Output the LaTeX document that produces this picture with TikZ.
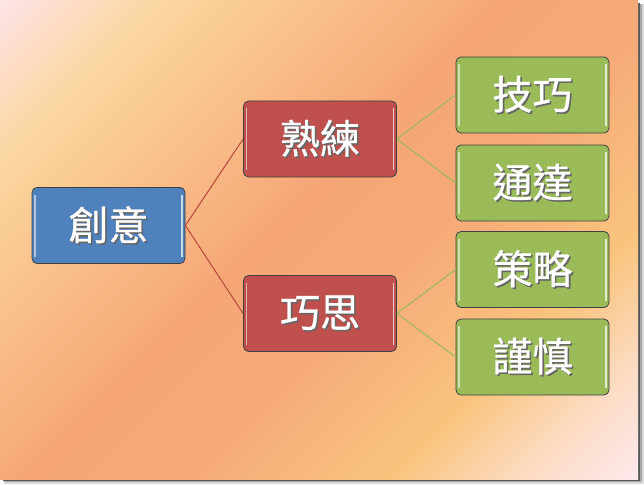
\documentclass[tikz,border=0pt]{standalone}
\usepackage{fontspec}
\newfontfamily\cjk[FakeBold=0.7]{Noto Sans CJK TC}
\definecolor{bgA}{HTML}{FDE3E6}
\definecolor{bgB}{HTML}{FBD69E}
\definecolor{bgC}{HTML}{F9BE8A}
\definecolor{bgD}{HTML}{F6A676}
\definecolor{bgE}{HTML}{F6AA78}
\definecolor{bgF}{HTML}{F9C47E}
\definecolor{bgG}{HTML}{FCDCC4}
\definecolor{bgH}{HTML}{FDE8EC}
\definecolor{cblue}{HTML}{4F81BD}
\definecolor{cred}{HTML}{C0504D}
\definecolor{cgreen}{HTML}{9BBB59}
\definecolor{lred}{HTML}{B44A3C}
\definecolor{lgreen}{HTML}{9AB85A}
\pgfdeclarehorizontalshading{bgshade}{100bp}{color(0bp)=(bgA); color(14.64bp)=(bgA); color(25.25bp)=(bgB); color(35.85bp)=(bgC); color(46.46bp)=(bgD); color(57.07bp)=(bgE); color(69.8bp)=(bgF); color(78.3bp)=(bgG); color(85.36bp)=(bgH); color(100bp)=(bgH)}
\newcommand\shtext[1]{\rlap{\hspace{1.6pt}\raisebox{-1.6pt}{\color{black!60}#1}}#1}
\tikzset{
  box/.style={draw=black!75, line width=0.8pt, rounded corners=5pt,
    minimum width=153pt, minimum height=76pt, inner sep=0pt, fill=#1,
    text=white, font=\cjk\fontsize{40}{45}\selectfont,
    path picture={
      \draw[line width=1.4pt, draw=#1!45!white]
        ([xshift=3pt,yshift=-7pt]path picture bounding box.north west) --
        ([xshift=3pt,yshift=7pt]path picture bounding box.south west);
      \draw[line width=1.4pt, draw=#1!30!white]
        ([xshift=-3pt,yshift=-7pt]path picture bounding box.north east) --
        ([xshift=-3pt,yshift=7pt]path picture bounding box.south east);
    }},
  redlink/.style={draw=lred, line width=1pt},
  greenlink/.style={draw=lgreen, line width=1pt}
}
\begin{document}
\begin{tikzpicture}[x=1pt,y=-1pt]
\useasboundingbox (0,0) rectangle (644,484);
\fill[white] (0,0) rectangle (644,484);
\fill[black!15] (4,4) rectangle (644,484);
\fill[black!35] (4,4) rectangle (642,482);
\fill[black!65] (3,3) rectangle (640,481);
\shade[shading=bgshade, shading angle=-45] (0,0) rectangle (638,479);

\node[box=cblue]  (cy) at (108.5,225.5) {\shtext{創意}};
\node[box=cred]   (sl) at (320,139)     {\shtext{熟練}};
\node[box=cred]   (qs) at (320,313.5)   {\shtext{巧思}};
\node[box=cgreen] (jq) at (532.5,95)    {\shtext{技巧}};
\node[box=cgreen] (td) at (532.5,183)   {\shtext{通達}};
\node[box=cgreen] (cl) at (532.5,269.5) {\shtext{策略}};
\node[box=cgreen] (js) at (532.5,357)   {\shtext{謹慎}};

\draw[redlink] (cy.east) -- (sl.west);
\draw[redlink] (cy.east) -- (qs.west);
\draw[greenlink] (sl.east) -- (jq.west);
\draw[greenlink] (sl.east) -- (td.west);
\draw[greenlink] (qs.east) -- (cl.west);
\draw[greenlink] (qs.east) -- (js.west);
\end{tikzpicture}
\end{document}
